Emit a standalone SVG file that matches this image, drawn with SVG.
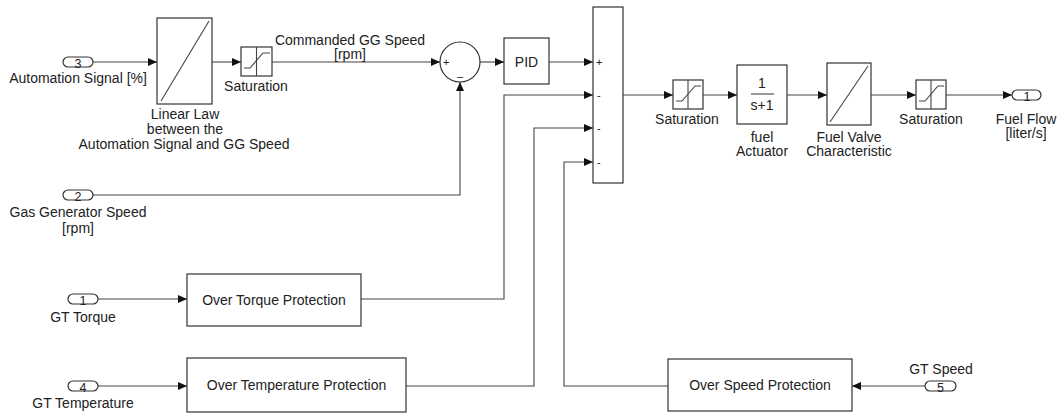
<svg xmlns="http://www.w3.org/2000/svg" width="1059" height="413" viewBox="0 0 1059 413">
<style>
.blk{fill:#fff;stroke:#333;stroke-width:1.2}
.ln{fill:none;stroke:#444;stroke-width:1.1}
.wire{fill:none;stroke:#444;stroke-width:1.1;marker-end:url(#ah)}
text{font-family:"Liberation Sans",Arial,sans-serif;font-size:14px;fill:#222}
.c{text-anchor:middle}
.sm{font-size:11px}
.num{font-size:12.5px;text-anchor:middle}
</style>
<defs>
<marker id="ah" markerUnits="userSpaceOnUse" markerWidth="9" markerHeight="8" refX="9" refY="4" orient="auto">
<path d="M0,0 L9,4 L0,8 z" fill="#111"/>
</marker>
</defs>

<g id="connectors">
<path class="wire" d="M93,62 H157"/>
<path class="wire" d="M212,62 H241"/>
<path class="wire" d="M272,62 H440"/>
<path class="wire" d="M93,195 H460 V82"/>
<path class="wire" d="M480,62 H504"/>
<path class="wire" d="M549,62 H593"/>
<path class="wire" d="M361,299 H504 V95 H593"/>
<path class="wire" d="M406,386 H534 V128 H593"/>
<path class="wire" d="M668,386 H564 V162 H593"/>
<path class="wire" d="M623,95 H673"/>
<path class="wire" d="M703,95 H737"/>
<path class="wire" d="M787,95 H827"/>
<path class="wire" d="M871,95 H916"/>
<path class="wire" d="M946,95 H1012"/>
<path class="wire" d="M98,299 H187"/>
<path class="wire" d="M98,386 H187"/>
<path class="wire" d="M925,386 H852"/>
</g>

<g id="in3">
<rect class="blk" x="63" y="57" width="30" height="10" rx="5"/>
<text class="num" x="78" y="68">3</text>
<text class="c" x="78" y="83">Automation Signal [%]</text>
</g>

<g id="linearLaw">
<rect class="blk" x="157" y="18" width="55" height="86"/>
<line class="ln" x1="161" y1="101" x2="209" y2="21"/>
<text class="c" x="185" y="119">Linear Law</text>
<text class="c" x="185" y="134">between the</text>
<text class="c" x="184" y="149">Automation Signal and GG Speed</text>
</g>

<g id="sat1">
<rect class="blk" x="241" y="47" width="31" height="29"/>
<line class="ln" x1="256.5" y1="47" x2="256.5" y2="76"/>
<path class="ln" d="M244,68 H250 L263,53 H270"/>
<text class="c" x="256" y="91">Saturation</text>
</g>

<g id="cmdLabel">
<text class="c" x="350" y="45">Commanded GG Speed</text>
<text class="c" x="350" y="59">[rpm]</text>
</g>

<g id="sum1">
<circle class="blk" cx="460" cy="62" r="20"/>
<text class="sm" x="443" y="66">+</text>
<text class="sm c" x="460" y="80">–</text>
</g>

<g id="in2">
<rect class="blk" x="63" y="190" width="30" height="10" rx="5"/>
<text class="num" x="78" y="201">2</text>
<text class="c" x="78" y="217">Gas Generator Speed</text>
<text class="c" x="78" y="233">[rpm]</text>
</g>

<g id="pid">
<rect class="blk" x="504" y="38" width="45" height="46"/>
<text class="c" x="526.5" y="67">PID</text>
</g>

<g id="sum2">
<rect class="blk" x="593" y="7" width="30" height="176"/>
<text class="sm" x="596" y="66">+</text>
<text class="sm" x="597" y="99">-</text>
<text class="sm" x="597" y="132">-</text>
<text class="sm" x="597" y="166">-</text>
</g>

<g id="sat2">
<rect class="blk" x="673" y="80" width="30" height="29"/>
<line class="ln" x1="688" y1="80" x2="688" y2="109"/>
<path class="ln" d="M676,101 H682 L695,86 H701"/>
<text class="c" x="687" y="124">Saturation</text>
</g>

<g id="actuator">
<rect class="blk" x="737" y="65" width="50" height="59"/>
<text class="c" x="762" y="88">1</text>
<line class="ln" x1="751" y1="94" x2="774" y2="94"/>
<text class="c" x="762" y="110">s+1</text>
<text class="c" x="762" y="142">fuel</text>
<text class="c" x="762" y="156">Actuator</text>
</g>

<g id="valve">
<rect class="blk" x="827" y="63" width="44" height="62"/>
<line class="ln" x1="830" y1="122" x2="868" y2="66"/>
<text class="c" x="849" y="142">Fuel Valve</text>
<text class="c" x="849" y="156">Characteristic</text>
</g>

<g id="sat3">
<rect class="blk" x="916" y="80" width="30" height="29"/>
<line class="ln" x1="931" y1="80" x2="931" y2="109"/>
<path class="ln" d="M919,101 H925 L938,86 H944"/>
<text class="c" x="931" y="124">Saturation</text>
</g>

<g id="out1">
<rect class="blk" x="1012" y="90" width="29" height="10" rx="5"/>
<text class="num" x="1027" y="101">1</text>
<text class="c" x="1026" y="124">Fuel Flow</text>
<text class="c" x="1026" y="138">[liter/s]</text>
</g>

<g id="in1">
<rect class="blk" x="68" y="294" width="30" height="10" rx="5"/>
<text class="num" x="83" y="305">1</text>
<text class="c" x="83" y="322">GT Torque</text>
</g>

<g id="overTorque">
<rect class="blk" x="187" y="274" width="174" height="52"/>
<text class="c" x="274" y="305">Over Torque Protection</text>
</g>

<g id="in4">
<rect class="blk" x="68" y="381" width="30" height="10" rx="5"/>
<text class="num" x="83" y="392">4</text>
<text class="c" x="83" y="408">GT Temperature</text>
</g>

<g id="overTemp">
<rect class="blk" x="187" y="358" width="219" height="54"/>
<text class="c" x="296.5" y="390">Over Temperature Protection</text>
</g>

<g id="overSpeed">
<rect class="blk" x="668" y="359" width="184" height="52"/>
<text class="c" x="760" y="390">Over Speed Protection</text>
</g>

<g id="in5">
<rect class="blk" x="925" y="381" width="31" height="10" rx="5"/>
<text class="num" x="940.5" y="392">5</text>
<text class="c" x="941" y="374">GT Speed</text>
</g>
</svg>
